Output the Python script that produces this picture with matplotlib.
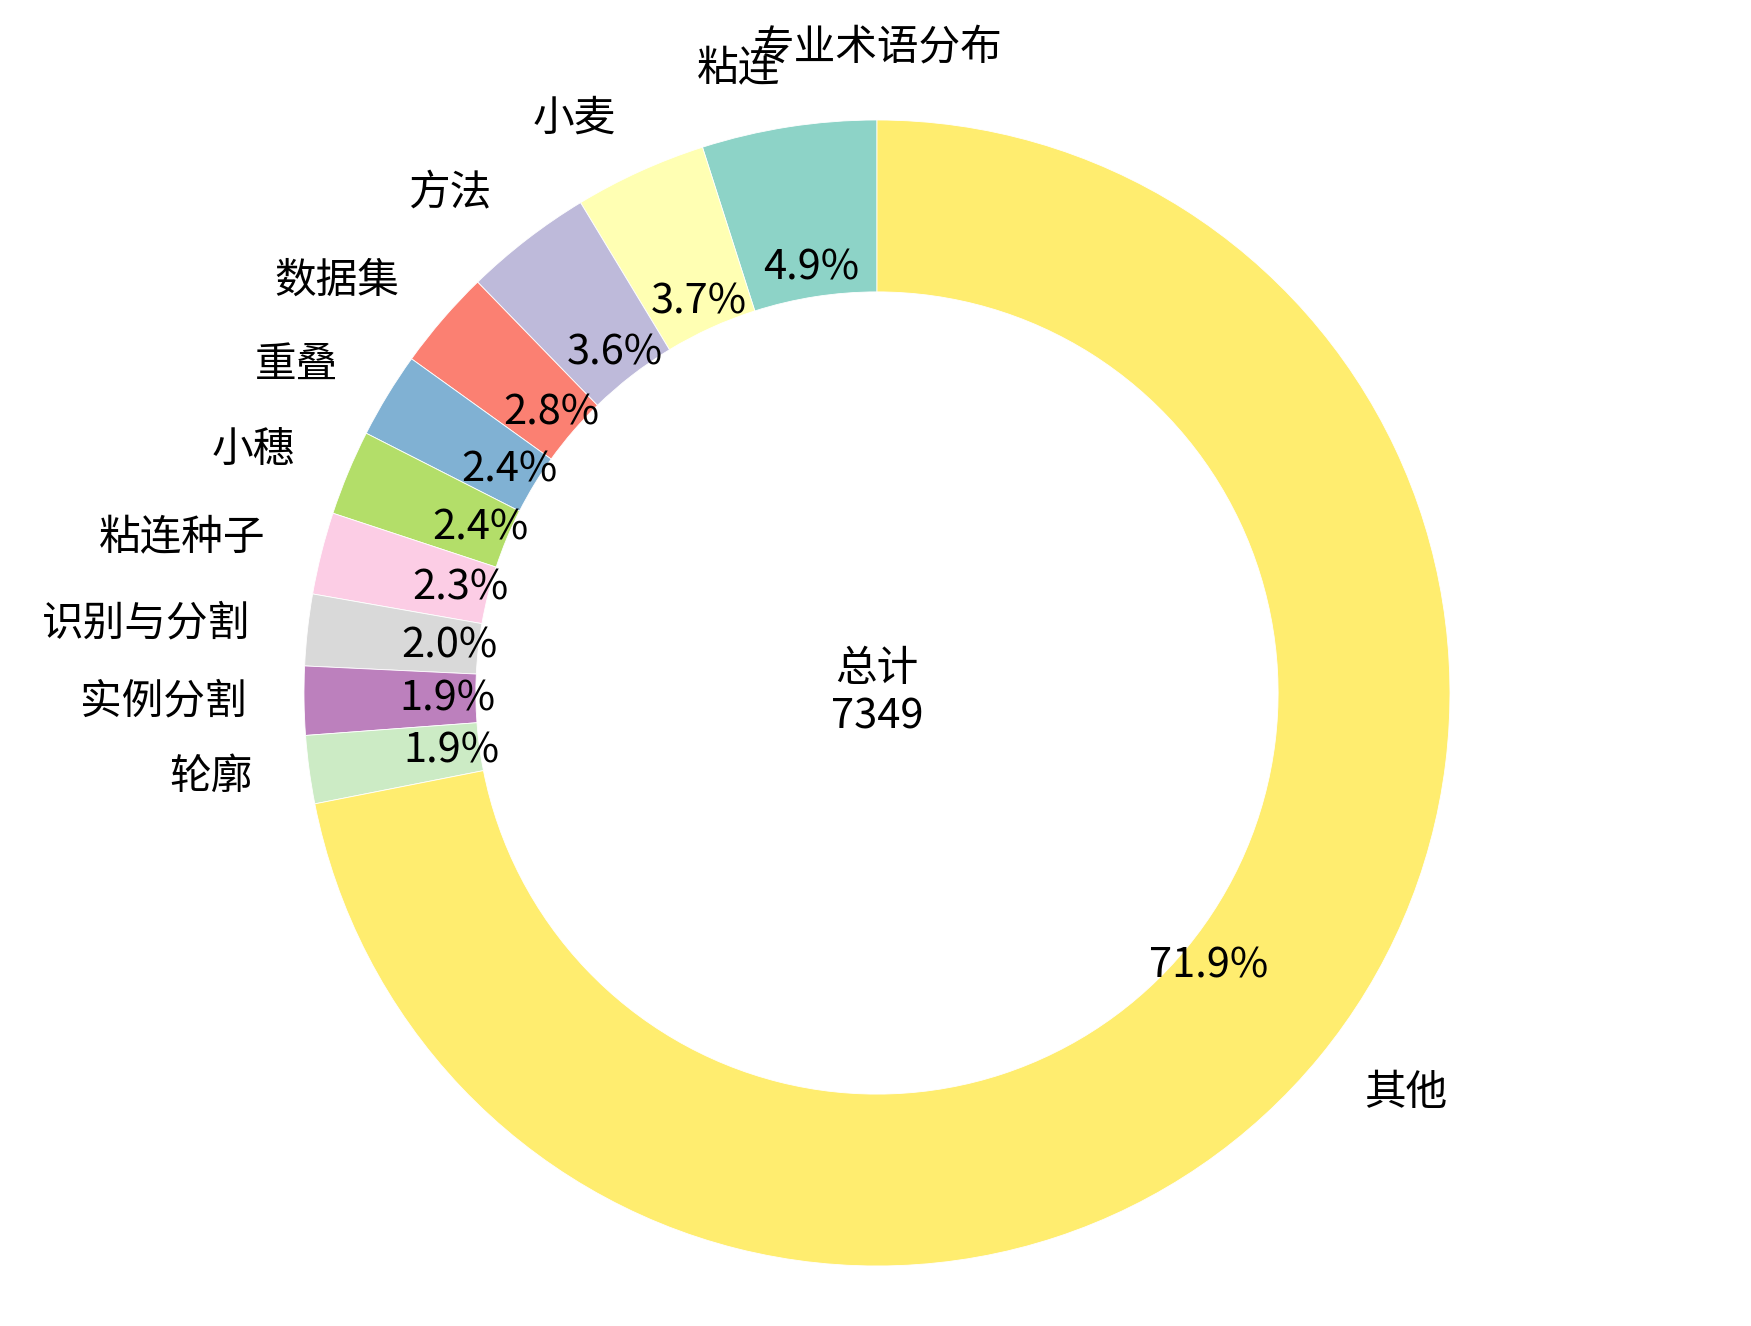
import matplotlib
matplotlib.use("Agg")
import matplotlib.pyplot as plt
import numpy as np

plt.rcParams['font.family'] = ['Noto Sans CJK SC', 'DejaVu Sans']

labels = ['粘连', '小麦', '方法', '数据集', '重叠', '小穗', '粘连种子', '识别与分割', '实例分割', '轮廓', '其他']
values = [362, 274, 266, 207, 178, 177, 170, 148, 142, 141, 5284]
title = '专业术语分布'
center_label = '总计'

fig = plt.figure(figsize=(8.755, 6.63), dpi=200)
ax = fig.add_axes([0.0, 0.0, 1.0, 1.0])
colors = plt.cm.Set3(np.linspace(0, 1, len(values)))
wedges, texts, autotexts = ax.pie(
    values, labels=labels, colors=colors, autopct='%1.1f%%',
    startangle=90, pctdistance=0.75, labeldistance=1.1,
    wedgeprops=dict(width=0.3, edgecolor='white', linewidth=0.3),
    textprops=dict(fontsize=15))
ax.text(0, 0, f'{center_label}\n{sum(values)}', ha='center', va='center', fontsize=15)
ax.set_aspect('equal')
ax.set_xlim(-1.5305, 1.5253)
ax.set_ylim(-1.1047, 1.2094)
ax.axis('off')
fig.text(0.5009, 0.9638, title, ha='center', va='center', fontsize=15)
fig.savefig('out.png', dpi=200)
